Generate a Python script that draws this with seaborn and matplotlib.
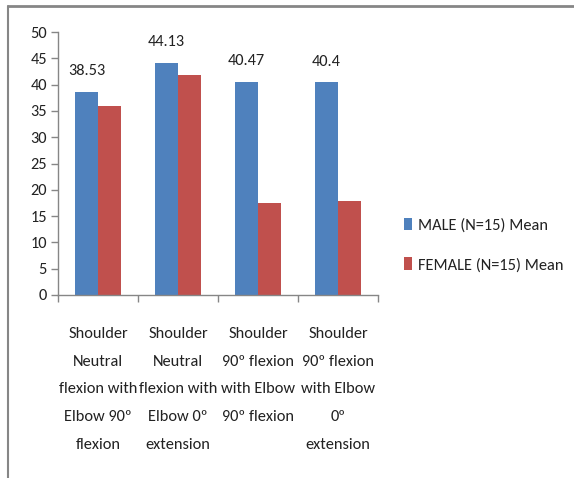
import matplotlib
matplotlib.use("Agg")
import matplotlib.pyplot as plt
from matplotlib.lines import Line2D
import seaborn as sns
import pandas as pd

categories = [
    "Shoulder\nNeutral\nflexion with\nElbow 90º\nflexion",
    "Shoulder\nNeutral\nflexion with\nElbow 0º\nextension",
    "Shoulder\n90º flexion\nwith Elbow\n90º flexion",
    "Shoulder\n90º flexion\nwith Elbow\n0º\nextension",
]
male_mean = [38.53, 44.13, 40.47, 40.4]
female_mean = [35.9, 41.8, 17.4, 17.8]
series_names = ["MALE (N=15) Mean", "FEMALE (N=15) Mean"]
y_ticks = [0, 5, 10, 15, 20, 25, 30, 35, 40, 45, 50]

sns.set_theme(style="white")
plt.rcParams["font.family"] = ["Carlito", "DejaVu Sans"]

df = pd.DataFrame({
    "cat": categories * 2,
    "value": male_mean + female_mean,
    "series": [series_names[0]] * 4 + [series_names[1]] * 4,
})

FS = 11.8
TXT = "#222222"
W, H = 574, 478
fig = plt.figure(figsize=(W / 100, H / 100), dpi=100)
ax = fig.add_axes([58 / W, 1 - 295 / H, 320 / W, 263 / H])

sns.barplot(data=df, x="cat", y="value", hue="series", order=categories,
            hue_order=series_names, palette=["#4F81BD", "#C0504D"],
            width=0.57, saturation=1, ax=ax, legend=True)
for p in ax.patches:
    p.set_linewidth(0)

ax.set_ylim(0, 50)
ax.set_xlim(-0.5, 3.5)
ax.set_yticks(y_ticks)
ax.set_xlabel("")
ax.set_ylabel("")

gray = "#868686"
for s in ["top", "right"]:
    ax.spines[s].set_visible(False)
for s in ["left", "bottom"]:
    ax.spines[s].set_color(gray)
    ax.spines[s].set_linewidth(1)

ax.tick_params(axis="y", which="major", direction="out", length=5, width=1,
               color=gray, left=True, labelsize=FS, labelcolor=TXT, pad=3)
ax.set_xticks([-0.5, 0.5, 1.5, 2.5, 3.5], minor=True)
ax.tick_params(axis="x", which="minor", direction="out", length=5, width=1,
               color=gray, bottom=True)
ax.tick_params(axis="x", which="major", length=0, pad=23)
ax.set_xticklabels(categories, fontsize=FS, color=TXT, linespacing=2.25,
                   va="top")

# value labels above the male bars
male_bars = ax.containers[0]
for bar, v in zip(male_bars, male_mean):
    ax.annotate(f"{v:g}", (bar.get_x() + bar.get_width() / 2, v),
                xytext=(0, 15), textcoords="offset points", ha="center",
                va="center", fontsize=FS, color=TXT)

leg = ax.legend(loc="upper left", bbox_to_anchor=(389 / W, 1 - 203 / H),
                bbox_transform=fig.transFigure, frameon=False, fontsize=FS,
                handlelength=0.5, handleheight=0.8, handletextpad=0.35,
                labelspacing=1.5)
for t in leg.get_texts():
    t.set_color(TXT)

# outer chart frame
fig.add_artist(Line2D([8 / W, 8 / W], [0, 1 - 6 / H], transform=fig.transFigure,
                      color=gray, lw=1.5))
fig.add_artist(Line2D([8 / W, 1], [1 - 6 / H, 1 - 6 / H], transform=fig.transFigure,
                      color=gray, lw=2))

fig.savefig("out.png", dpi=100)
